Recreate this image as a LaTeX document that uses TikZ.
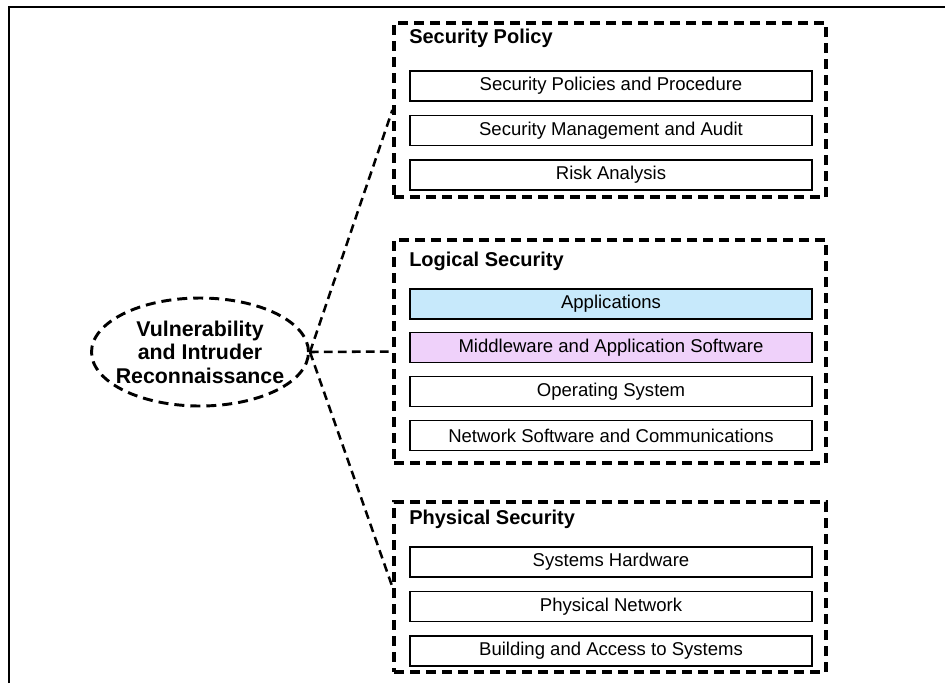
\documentclass[tikz,border=0pt]{standalone}
\usepackage{fontspec}
\setmainfont{Liberation Sans}
\usetikzlibrary{positioning,shapes.geometric}
\definecolor{AppBlue}{RGB}{199,233,251}
\definecolor{MidPurple}{RGB}{239,209,250}

\begin{document}
\begin{tikzpicture}[x=0.75pt, y=-0.75pt, every node/.style={align=center}]
\tikzset{
  zone/.style={draw, dash pattern=on 7.5pt off 4.5pt, line width=2.4pt, minimum width=324pt, inner sep=0pt},
  layer/.style={draw, line width=0.9pt, minimum width=301.5pt, minimum height=22.5pt, inner sep=0pt, font=\fontsize{13.9}{16}\selectfont},
  zonetitle/.style={anchor=base west, inner sep=0pt, font=\bfseries\fontsize{15}{18}\selectfont},
  link/.style={dash pattern=on 6.5pt off 4pt, line width=1.9pt},
  threat/.style={ellipse, draw, dash pattern=on 7.5pt off 4.5pt, line width=2.2pt, minimum width=162.75pt, minimum height=81pt, inner xsep=-9pt, inner ysep=0pt, font=\bfseries\fontsize{16}{17.6}\selectfont}
}
  \useasboundingbox (0,0) rectangle (945,683);
  \draw[line width=1pt] (9,683) -- (9,7) -- (945,7);

  % zones
  \node[zone, minimum height=130.5pt] (policy) at (610,110) {};
  \node[zone, minimum height=167.25pt] (logical) at (610,351.5) {};
  \node[zone, minimum height=127.5pt] (physical) at (610,587) {};
  \node[zonetitle] at (409,43) {Security Policy};
  \node[zonetitle] at (409,266) {Logical Security};
  \node[zonetitle] at (409,524) {Physical Security};

  % security policy layers
  \node[layer] (procedure) at (611,86) {Security Policies and Procedure};
  \node[layer, below=10pt of procedure] (audit) {Security Management and Audit};
  \node[layer, below=10pt of audit] (risk) {Risk Analysis};

  % logical layers
  \node[layer, fill=AppBlue] (apps) at (611,304) {Applications};
  \node[layer, fill=MidPurple, below=9.5pt of apps] (middleware) {Middleware and Application Software};
  \node[layer, below=9.5pt of middleware] (os) {Operating System};
  \node[layer, below=9.5pt of os] (netsoft) {Network Software and Communications};

  % physical layers
  \node[layer] (hardware) at (611,562) {Systems Hardware};
  \node[layer, below=10pt of hardware] (network) {Physical Network};
  \node[layer, below=10pt of network] (building) {Building and Access to Systems};

  % threat and links
  \node[threat] (vuln) at (200,352) {Vulnerability\\and Intruder\\Reconnaissance};
  \draw[link] (vuln.east) -- (policy.west);
  \draw[link] (vuln.east) -- (logical.west);
  \draw[link] (vuln.east) -- (physical.west);
\end{tikzpicture}
\end{document}
